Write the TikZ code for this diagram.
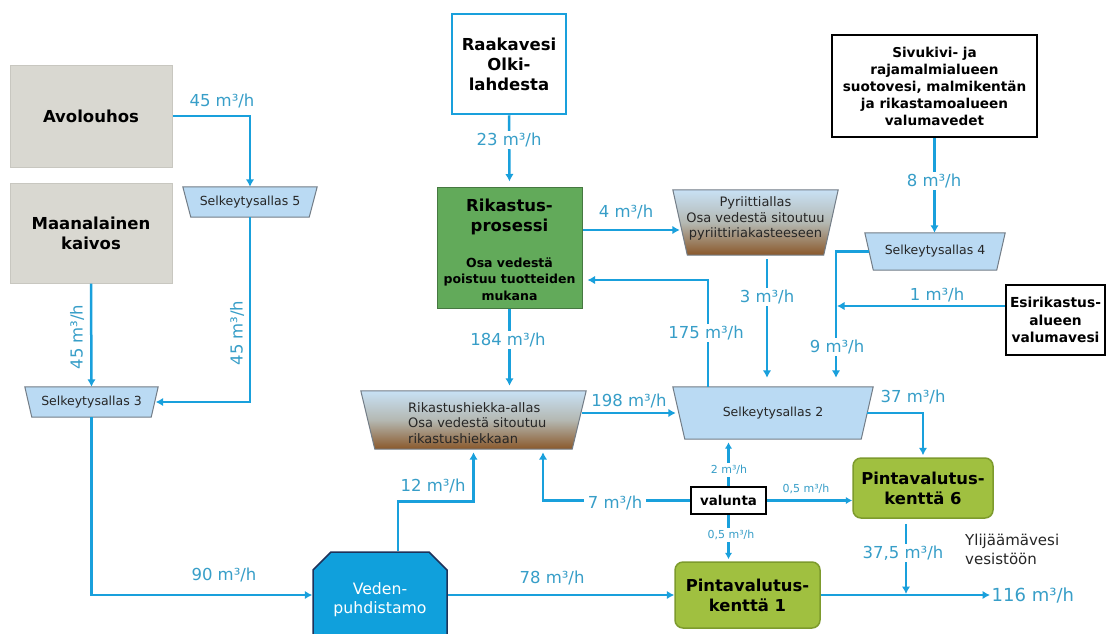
\documentclass[tikz,border=0pt]{standalone}
\usepackage{fontspec}
\setmainfont{DejaVu Sans}
\usetikzlibrary{shapes.misc,arrows.meta,backgrounds}

\definecolor{flowc}{RGB}{25,160,220}
\definecolor{labc}{RGB}{55,158,200}
\definecolor{rockf}{RGB}{217,216,209}
\definecolor{rockb}{RGB}{200,199,192}
\definecolor{selkf}{RGB}{186,218,243}
\definecolor{poolb}{RGB}{115,125,135}
\definecolor{wetc}{RGB}{200,225,245}
\definecolor{midc}{RGB}{180,184,178}
\definecolor{mudc}{RGB}{138,88,42}
\definecolor{rikf}{RGB}{98,170,90}
\definecolor{rikb}{RGB}{70,120,65}
\definecolor{pvf}{RGB}{160,192,64}
\definecolor{pvb}{RGB}{125,155,45}
\definecolor{vedf}{RGB}{16,160,220}
\definecolor{vedb}{RGB}{30,50,90}

\newcommand\fs[2]{\fontsize{#1}{#2}\selectfont}
% basin outline: a trapezoid hanging from the top edge of node #1,
% its lower corners moved inwards by #2
\newcommand\basin[3]{\path[#3] (#1.north west) -- (#1.north east)
  -- ([xshift=-#2]#1.south east) -- ([xshift=#2]#1.south west) -- cycle;}

\begin{document}
\begin{tikzpicture}[x=1pt,y=-1pt,
  flow/.style={draw=flowc, line width=2.5pt, -{Latex[length=7.5pt,width=8.5pt]}},
  thinflow/.style={flow, line width=2.1pt, -{Latex[length=6.5pt,width=7.5pt]}},
  lab/.style={text=labc, font=\fs{16.5}{19}, inner sep=1.5pt},
  labw/.style={lab, fill=white, inner xsep=4pt, inner ysep=2pt},
  slab/.style={text=labc, font=\fs{11}{13}, inner sep=1pt},
  slabw/.style={slab, fill=white, inner xsep=2pt, inner ysep=2pt},
  rock/.style={draw=rockb, fill=rockf, line width=1pt, font=\fs{16.5}{20}\bfseries, align=center},
  selk/.style={inner sep=0pt, font=\fs{12.5}{15}, text=black!85},
  selkfill/.style={fill=selkf, draw=poolb, line width=1pt},
  sludgefill/.style={top color=wetc, bottom color=mudc, middle color=midc, draw=poolb, line width=1pt},
  pooltext/.style={font=\fs{13}{15.6}, text=black!85, inner sep=0pt},
  blackbox/.style={draw=black, fill=white, line width=2pt, inner sep=2pt, align=center},
  field/.style={draw=pvb, fill=pvf, line width=1.5pt, rounded corners=8pt,
    font=\fs{16.4}{20}\bfseries, align=center}]

\useasboundingbox (0,0) rectangle (1107,633);
\clip (0,0) rectangle (1107,633);

% sources on the left
\node[rock, minimum width=162pt, minimum height=102pt] (avo) at (91,116) {Avolouhos};
\node[rock, minimum width=162pt, minimum height=100pt] (maa) at (91,233) {Maanalainen\\kaivos};

% settling ponds (outlines drawn on the background layer)
\node[selk, minimum width=134pt, minimum height=30pt] (s5) at (250,202) {Selkeytysallas 5};
\node[selk, minimum width=133pt, minimum height=30pt] (s3) at (91.5,402) {Selkeytysallas 3};
\node[selk, minimum width=140pt, minimum height=37pt] (s4) at (935,251.5) {Selkeytysallas 4};
\node[selk, minimum width=200pt, minimum height=52pt] (s2) at (773,413) {Selkeytysallas 2};

% sludge ponds
\node[inner sep=0pt, minimum width=165pt, minimum height=65pt] (pyr) at (755.5,222.5) {};
\node[pooltext, align=center] (pyrT) at (755.5,218.5) {Pyriittiallas\\Osa vedestä sitoutuu\\pyriittiriakasteeseen};
\node[inner sep=0pt, minimum width=225pt, minimum height=58pt] (rh) at (473.5,420) {};
\node[pooltext, align=left, anchor=west] (rhT) at (408,423) {Rikastushiekka-allas\\Osa vedestä sitoutuu\\rikastushiekkaan};

% raw water and process
\node[draw=flowc, line width=2.5pt, fill=white, minimum width=114pt, minimum height=100pt,
  font=\fs{16.5}{20}\bfseries, align=center] (raw) at (509,64) {Raakavesi\\Olki-\\lahdesta};
\node[draw=rikb, fill=rikf, line width=1pt, minimum width=145pt, minimum height=121pt] (rik) at (509.5,247.5) {};
\node[font=\fs{16.5}{20}\bfseries, align=center] (rikT) at (509.5,217) {Rikastus-\\prosessi};
\node[font=\fs{12.5}{16.3}\bfseries, align=center] (rikS) at (509.5,279) {Osa vedestä\\poistuu tuotteiden\\mukana};

% runoff sources
\node[blackbox, minimum width=205pt, minimum height=102pt, font=\fs{13.6}{17}\bfseries] (siv) at (934.5,86)
  {Sivukivi- ja\\rajamalmialueen\\suotovesi, malmikentän\\ja rikastamoalueen\\valumavedet};
\node[blackbox, minimum width=99pt, minimum height=70pt, font=\fs{13.8}{17.5}\bfseries] (esi) at (1055.5,320)
  {Esirikastus-\\alueen\\valumavesi};
\node[blackbox, minimum width=75pt, minimum height=27pt, font=\fs{13.4}{16}\bfseries] (val) at (728.5,500.5) {valunta};

% treatment and overland flow fields
\node[field, minimum width=140pt, minimum height=60pt] (pv6) at (923,488) {Pintavalutus-\\kenttä 6};
\node[field, minimum width=145pt, minimum height=66pt] (pv1) at (747.5,595) {Pintavalutus-\\kenttä 1};
\node[chamfered rectangle, chamfered rectangle corners={north east,north west},
  chamfered rectangle xsep=9pt, chamfered rectangle ysep=9pt,
  draw=vedb, fill=vedf, line width=1.5pt, minimum width=134pt, minimum height=95pt,
  text=white, font=\fs{15.7}{19}, align=center] (ved) at (380,599.5) {Veden-\\puhdistamo};

\node[lab, anchor=west, font=\fs{18}{21}] (out) at (990,595) {116 m³/h};
\node[anchor=west, align=left, text=black!85, font=\fs{15}{19}, inner sep=0pt] (yli) at (965,549.5) {Ylijäämävesi\\vesistöön};

\begin{scope}[on background layer]
  \fill[white] (0,0) rectangle (1107,633);
  \basin{s5}{8pt}{selkfill}
  \basin{s3}{7pt}{selkfill}
  \basin{s4}{8.5pt}{selkfill}
  \basin{s2}{12pt}{selkfill}
  \basin{pyr}{14.5pt}{sludgefill}
  \basin{rh}{14pt}{sludgefill}
\end{scope}

% flows
\draw[flow] (avo.east) -| (s5.north);
\draw[flow] (maa.south) -- (s3.north);
\draw[flow, shorten >=1pt] (s5.south) |- ([xshift=-3.5pt]s3.east);
\draw[flow] (s3.south) |- (ved.west |- pv1.west);
\draw[flow, shorten >=3pt] ([xshift=18pt]ved.north) -- ++(0,-50) -| (rh.south);
\draw[flow] (ved.east |- pv1.west) -- (pv1.west);
\draw[flow, shorten >=5pt] (raw.south) -- (rik.north);
\draw[flow, shorten >=5pt] (rik.south) -- (rik.south |- rh.north);
\draw[flow, shorten >=1pt] ([yshift=17.5pt]rik.east) -- ([yshift=17.5pt,xshift=8pt]rik.east -| pyr.west);
\draw[flow, shorten >=5pt] ([xshift=-65pt]s2.north) |- ([yshift=-32.5pt]rik.east);
\draw[flow, shorten <=4pt, shorten >=9pt] ([xshift=11.5pt]pyr.south) -- ([xshift=-6pt]s2.north);
\draw[flow] (siv.south) -- (siv.south |- s4.north);
\coordinate (j9) at ([xshift=63pt]s2.north);
\draw[flow, shorten >=9pt] ([xshift=4pt]s4.west) -| (j9);
\draw[flow, shorten >=1pt] ([yshift=14pt]esi.west) -- ([yshift=14pt]esi.west -| j9);
\draw[flow, shorten >=3pt] ([xshift=-4pt]rh.east |- s2.west) -- ([xshift=6pt]s2.west);
\draw[flow, shorten >=2pt] ([xshift=-6pt]s2.east) -| (pv6.north);
\draw[thinflow, shorten >=3pt] (val.north) -- (val.north |- s2.south);
\draw[thinflow] (val.east) -- (val.east -| pv6.west);
\draw[thinflow, shorten >=2pt] (val.south) -- (val.south |- pv1.north);
\draw[flow, shorten >=3pt] (val.west) -| ([xshift=69.5pt]rh.south);
\draw[flow, shorten <=5pt, shorten >=1pt] ([xshift=-17pt]pv6.south) -- ([xshift=-17pt]pv6.south |- pv1.east);
\draw[flow] (pv1.east) -- (out.west);

% flow rates
\node[lab] (l45a) at (222,101) {45 m³/h};
\node[lab, rotate=90] (l45b) at (77,337) {45 m³/h};
\node[lab, rotate=90] (l45c) at (237,333) {45 m³/h};
\node[lab] (l90) at (224,575) {90 m³/h};
\node[lab] (l12) at (433,486) {12 m³/h};
\node[lab] (l78) at (552,578) {78 m³/h};
\node[labw] (l23) at (509,140) {23 m³/h};
\node[labw] (l184) at (508,340) {184 m³/h};
\node[lab] (l4) at (626,212) {4 m³/h};
\node[labw] (l175) at (706,333) {175 m³/h};
\node[labw] (l3) at (767,297) {3 m³/h};
\node[labw] (l8) at (934,181) {8 m³/h};
\node[labw] (l9) at (837,347) {9 m³/h};
\node[lab] (l1) at (937,295) {1 m³/h};
\node[lab] (l198) at (629,401) {198 m³/h};
\node[lab] (l37) at (913,397) {37 m³/h};
\node[labw] (l7) at (615,503) {7 m³/h};
\node[slabw] (l2) at (729,470) {2 m³/h};
\node[slab] (l05a) at (806,489) {0,5 m³/h};
\node[slabw] (l05b) at (731,535) {0,5 m³/h};
\node[labw] (l375) at (903,553) {37,5 m³/h};
\end{tikzpicture}
\end{document}
